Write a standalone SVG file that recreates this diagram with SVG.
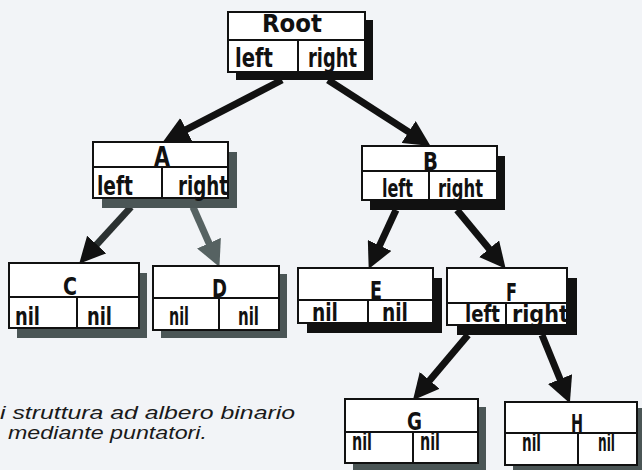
<svg xmlns="http://www.w3.org/2000/svg" width="642" height="470" viewBox="0 0 642 470">
<style>
.box{fill:#fff;stroke:#111;stroke-width:2}
.div{stroke:#111;stroke-width:2}
.shk{fill:#111}
.shg{fill:#4b5656}
.t{font-family:"Liberation Sans Narrow","DejaVu Sans Condensed","Liberation Sans",sans-serif;font-weight:bold;fill:#111}
.cap{font-family:"Liberation Sans",Arial,sans-serif;font-style:italic;font-size:18.5px;fill:#1a1a1a}
.ak{stroke:#111;stroke-width:7;fill:none;marker-end:url(#hk)}
.ag{stroke:#566262;stroke-width:7;fill:none;marker-end:url(#hg)}
.ad{stroke:#2b3131;stroke-width:7;fill:none;marker-end:url(#hk)}
</style>
<defs>
<marker id="hk" markerUnits="userSpaceOnUse" markerWidth="26" markerHeight="26" viewBox="0 0 26 26" refX="11" refY="13" orient="auto"><path d="M0,0 L26,13 L0,26 z" fill="#111"/></marker>
<marker id="hg" markerUnits="userSpaceOnUse" markerWidth="26" markerHeight="26" viewBox="0 0 26 26" refX="11" refY="13" orient="auto"><path d="M0,0 L26,13 L0,26 z" fill="#566262"/></marker>
</defs>
<rect width="642" height="470" fill="#f2f4f7"/>
<g id="connectors">
<line class="ak" x1="282" y1="80" x2="176.5" y2="134.7"/>
<line class="ak" x1="328" y1="80" x2="417.9" y2="137.9"/>
<line class="ad" x1="131" y1="207" x2="89.3" y2="252.6"/>
<line class="ag" x1="193" y1="207" x2="213.4" y2="253.2"/>
<line class="ak" x1="396" y1="210" x2="375" y2="255.4"/>
<line class="ak" x1="457" y1="210" x2="496.1" y2="257.2"/>
<line class="ak" x1="468" y1="335" x2="422.6" y2="388.8"/>
<line class="ak" x1="542" y1="335" x2="564.2" y2="389.3"/>
</g>
<g id="root">
<rect class="shk" x="236" y="20" width="137" height="60"/>
<rect class="box" x="228" y="12" width="137" height="60"/>
<line class="div" x1="228" y1="40" x2="365" y2="40"/>
<line class="div" x1="298" y1="40" x2="298" y2="72"/>
<text class="t" x="262" y="32" font-size="25" textLength="60" lengthAdjust="spacingAndGlyphs">Root</text>
<text class="t" x="235" y="67" font-size="27" textLength="38" lengthAdjust="spacingAndGlyphs">left</text>
<text class="t" x="308" y="67" font-size="27" textLength="49" lengthAdjust="spacingAndGlyphs">right</text>
</g>
<g id="A">
<rect class="shg" x="102" y="152" width="135" height="56"/>
<rect class="box" x="93" y="142" width="135" height="56"/>
<line class="div" x1="93" y1="167" x2="228" y2="167"/>
<line class="div" x1="162" y1="167" x2="162" y2="198"/>
<text class="t" x="154" y="166" font-size="26" textLength="16" lengthAdjust="spacingAndGlyphs">A</text>
<text class="t" x="97" y="195" font-size="27" textLength="36" lengthAdjust="spacingAndGlyphs">left</text>
<text class="t" x="178" y="195" font-size="27" textLength="50" lengthAdjust="spacingAndGlyphs">right</text>
</g>
<g id="B">
<rect class="shk" x="370" y="156" width="135" height="54"/>
<rect class="box" x="362" y="146" width="135" height="54"/>
<line class="div" x1="362" y1="171" x2="497" y2="171"/>
<line class="div" x1="429" y1="171" x2="429" y2="200"/>
<text class="t" x="423" y="170" font-size="25" textLength="15" lengthAdjust="spacingAndGlyphs">B</text>
<text class="t" x="382" y="197" font-size="25" textLength="31" lengthAdjust="spacingAndGlyphs">left</text>
<text class="t" x="438" y="197" font-size="25" textLength="45" lengthAdjust="spacingAndGlyphs">right</text>
</g>
<g id="C">
<rect class="shg" x="17" y="273" width="130" height="65"/>
<rect class="box" x="9" y="263" width="130" height="65"/>
<line class="div" x1="9" y1="297" x2="139" y2="297"/>
<line class="div" x1="77" y1="297" x2="77" y2="328"/>
<text class="t" x="63" y="295" font-size="25" textLength="14" lengthAdjust="spacingAndGlyphs">C</text>
<text class="t" x="15" y="325" font-size="25" textLength="25" lengthAdjust="spacingAndGlyphs">nil</text>
<text class="t" x="87" y="325" font-size="25" textLength="25" lengthAdjust="spacingAndGlyphs">nil</text>
</g>
<g id="D">
<rect class="shg" x="161" y="274" width="126" height="64"/>
<rect class="box" x="153" y="266" width="126" height="64"/>
<line class="div" x1="153" y1="298" x2="279" y2="298"/>
<line class="div" x1="219" y1="298" x2="219" y2="330"/>
<text class="t" x="212" y="297" font-size="25" textLength="15" lengthAdjust="spacingAndGlyphs">D</text>
<text class="t" x="169" y="325" font-size="25" textLength="20" lengthAdjust="spacingAndGlyphs">nil</text>
<text class="t" x="238" y="325" font-size="25" textLength="21" lengthAdjust="spacingAndGlyphs">nil</text>
</g>
<g id="E">
<rect class="shk" x="307" y="278" width="135" height="55"/>
<rect class="box" x="298" y="268" width="135" height="55"/>
<line class="div" x1="298" y1="300" x2="433" y2="300"/>
<line class="div" x1="368" y1="300" x2="368" y2="323"/>
<text class="t" x="370" y="299" font-size="25" textLength="12" lengthAdjust="spacingAndGlyphs">E</text>
<text class="t" x="312" y="321" font-size="24" textLength="26" lengthAdjust="spacingAndGlyphs">nil</text>
<text class="t" x="382" y="321" font-size="24" textLength="26" lengthAdjust="spacingAndGlyphs">nil</text>
</g>
<g id="F">
<rect class="shk" x="457" y="278" width="120" height="57"/>
<rect class="box" x="447" y="268" width="120" height="57"/>
<line class="div" x1="447" y1="303" x2="567" y2="303"/>
<line class="div" x1="506" y1="303" x2="506" y2="325"/>
<text class="t" x="506" y="301" font-size="24" textLength="11" lengthAdjust="spacingAndGlyphs">F</text>
<text class="t" x="465" y="322" font-size="23" textLength="35" lengthAdjust="spacingAndGlyphs">left</text>
<text class="t" x="512" y="322" font-size="23" textLength="57" lengthAdjust="spacingAndGlyphs">right</text>
</g>
<g id="G">
<rect class="shg" x="353" y="407" width="133" height="64"/>
<rect class="box" x="345" y="399" width="133" height="64"/>
<line class="div" x1="345" y1="432" x2="478" y2="432"/>
<line class="div" x1="413" y1="432" x2="413" y2="463"/>
<text class="t" x="407" y="430" font-size="25" textLength="15" lengthAdjust="spacingAndGlyphs">G</text>
<text class="t" x="352" y="450" font-size="25" textLength="20" lengthAdjust="spacingAndGlyphs">nil</text>
<text class="t" x="420" y="450" font-size="25" textLength="20" lengthAdjust="spacingAndGlyphs">nil</text>
</g>
<g id="H">
<rect class="shg" x="513" y="408" width="132" height="63"/>
<rect class="box" x="505" y="402" width="132" height="63"/>
<line class="div" x1="505" y1="433" x2="637" y2="433"/>
<line class="div" x1="578" y1="433" x2="578" y2="465"/>
<text class="t" x="571" y="432" font-size="25" textLength="12" lengthAdjust="spacingAndGlyphs">H</text>
<text class="t" x="522" y="451" font-size="25" textLength="19" lengthAdjust="spacingAndGlyphs">nil</text>
<text class="t" x="598" y="451" font-size="25" textLength="17" lengthAdjust="spacingAndGlyphs">nil</text>
</g>
<text class="cap" x="0" y="419" textLength="295" lengthAdjust="spacingAndGlyphs">i struttura ad albero binario</text>
<text class="cap" x="8" y="439" textLength="199" lengthAdjust="spacingAndGlyphs">mediante puntatori.</text>
</svg>
